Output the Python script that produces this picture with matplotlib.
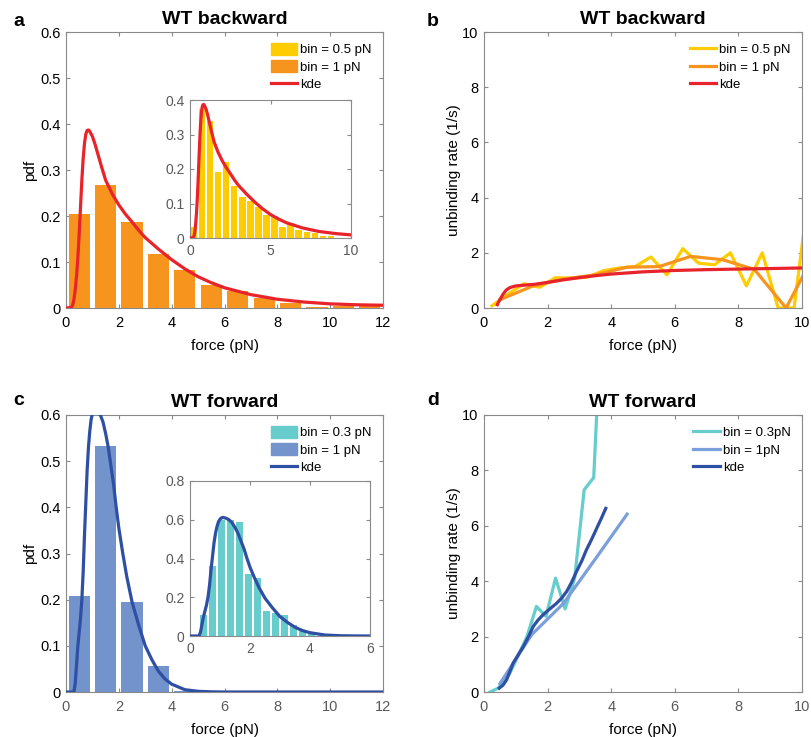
import numpy as np
import matplotlib
matplotlib.use("Agg")
import matplotlib.pyplot as plt
from matplotlib.patches import Patch
from matplotlib.lines import Line2D

plt.rcParams['font.family'] = ['Liberation Sans', 'DejaVu Sans']

# ---------------- data ----------------
# panel a: WT backward pdf
a_bin1_centers = [0.5, 1.5, 2.5, 3.5, 4.5, 5.5, 6.5, 7.5, 8.5, 9.5, 10.5, 11.5]
a_bin1_values = [0.204, 0.267, 0.188, 0.117, 0.083, 0.050, 0.036, 0.021, 0.011, 0.002, 0.004, 0.005]
a_bin05_centers = [0.25, 0.75, 1.25, 1.75, 2.25, 2.75, 3.25, 3.75, 4.25, 4.75, 5.25, 5.75,
                   6.25, 6.75, 7.25, 7.75, 8.25, 8.75, 9.25, 9.75]
a_bin05_values = [0.031, 0.373, 0.339, 0.192, 0.219, 0.150, 0.118, 0.108, 0.091, 0.067, 0.065, 0.031,
                  0.044, 0.022, 0.018, 0.015, 0.007, 0.007, 0.001, 0.001]
a_kde_x = [0, 0.2, 0.25, 0.3, 0.35, 0.4, 0.45, 0.5, 0.55, 0.6, 0.65, 0.7, 0.75, 0.8, 0.85, 0.9,
           1.0, 1.1, 1.2, 1.35, 1.5, 1.75, 2.0, 2.25, 2.5, 2.75, 3.0, 3.5, 4.0, 4.5, 5.0, 5.5,
           6.0, 7.0, 8.0, 9.0, 10.0, 11.0, 12.0]
a_kde_y = [0, 0.001, 0.006, 0.018, 0.04, 0.07, 0.11, 0.162, 0.22, 0.278, 0.325, 0.358, 0.378,
           0.386, 0.387, 0.384, 0.373, 0.356, 0.336, 0.306, 0.278, 0.248, 0.224, 0.204, 0.187,
           0.169, 0.153, 0.128, 0.105, 0.085, 0.068, 0.055, 0.044, 0.029, 0.019, 0.013, 0.009,
           0.007, 0.006]

# panel b: WT backward unbinding rate
b_bin05_x = [0.25, 0.75, 1.25, 1.75, 2.25, 2.75, 3.25, 3.75, 4.25, 4.75, 5.25, 5.75, 6.25, 6.75,
             7.25, 7.75, 8.25, 8.75, 9.25, 9.75, 10.25]
b_bin05_y = [0.08, 0.5, 0.88, 0.75, 1.1, 1.08, 1.12, 1.35, 1.45, 1.5, 1.85, 1.2, 2.15, 1.62,
             1.57, 2.0, 0.8, 2.0, 0.0, 0.0, 4.5]
b_bin1_x = [0.5, 1.5, 2.5, 3.5, 4.5, 5.5, 6.5, 7.5, 8.5, 9.5, 10.5]
b_bin1_y = [0.3, 0.78, 1.05, 1.2, 1.48, 1.5, 1.87, 1.75, 1.4, 0.0, 2.2]
b_kde_x = [0.42, 0.45, 0.5, 0.55, 0.6, 0.65, 0.7, 0.75, 0.8, 0.9, 1.0, 1.1, 1.3, 1.6, 2.0, 2.5,
           3.0, 3.5, 4.0, 5.0, 6.0, 7.0, 8.0, 9.0, 10.0]
b_kde_y = [0.12, 0.2, 0.3, 0.4, 0.5, 0.58, 0.65, 0.69, 0.73, 0.77, 0.8, 0.81, 0.83, 0.86, 0.93,
           1.02, 1.1, 1.17, 1.23, 1.31, 1.36, 1.39, 1.41, 1.43, 1.45]

# panel c: WT forward pdf
c_bin1_centers = [0.5, 1.5, 2.5, 3.5, 4.5]
c_bin1_values = [0.207, 0.532, 0.196, 0.057, 0.003]
c_bin03_centers = [0.45, 0.75, 1.05, 1.35, 1.65, 1.95, 2.25, 2.55, 2.85, 3.15, 3.45, 3.75, 4.05]
c_bin03_values = [0.108, 0.361, 0.600, 0.600, 0.588, 0.322, 0.300, 0.130, 0.118, 0.108, 0.057, 0.028, 0.008]
c_kde_x = [0, 0.3, 0.35, 0.4, 0.45, 0.5, 0.55, 0.6, 0.65, 0.7, 0.75, 0.8, 0.85, 0.9, 0.95, 1.0,
           1.05, 1.1, 1.2, 1.3, 1.4, 1.5, 1.6, 1.7, 1.8, 1.9, 2.0, 2.15, 2.3, 2.5, 2.75, 3.0,
           3.25, 3.5, 3.75, 4.0, 4.5, 5.0, 5.5, 6.0, 12.0]
c_kde_y = [0, 0, 0.02, 0.06, 0.1, 0.13, 0.16, 0.2, 0.26, 0.34, 0.41, 0.48, 0.53, 0.565, 0.59,
           0.603, 0.61, 0.612, 0.608, 0.6, 0.585, 0.56, 0.53, 0.49, 0.45, 0.40, 0.355, 0.3,
           0.25, 0.195, 0.145, 0.1, 0.07, 0.045, 0.028, 0.017, 0.005, 0.0015, 0.0004, 0, 0]

# panel d: WT forward unbinding rate
d_bin03_x = [0.19, 0.45, 0.8, 1.05, 1.35, 1.65, 1.95, 2.25, 2.55, 2.85, 3.15, 3.45, 3.75]
d_bin03_y = [0.0, 0.14, 0.65, 1.25, 2.0, 3.09, 2.73, 4.11, 3.0, 4.1, 7.3, 7.74, 15.0]
d_bin1_x = [0.5, 1.5, 2.5, 3.5, 4.5]
d_bin1_y = [0.3, 2.07, 3.2, 4.8, 6.42]
d_kde_x = [0.48, 0.6, 0.71, 0.8, 0.92, 1.08, 1.24, 1.4, 1.55, 1.7, 1.86, 2.07, 2.28, 2.45, 2.6,
           2.75, 2.91, 3.07, 3.22, 3.38, 3.54, 3.69, 3.83]
d_kde_y = [0.14, 0.25, 0.44, 0.7, 1.05, 1.35, 1.65, 2.0, 2.37, 2.6, 2.79, 3.0, 3.2, 3.4, 3.63,
           3.95, 4.35, 4.72, 5.13, 5.5, 5.9, 6.27, 6.63]

# ---------------- style ----------------
YELLOW = '#FFCC00'
ORANGE = '#F7941D'
RED = '#E8232A'
CYAN = '#66CCCC'
BLUEBAR = '#7293CB'
DARKBLUE = '#2F4FA2'
LIGHTBLUE = '#7A9FDA'
EDGE = '#8a8a8a'
GREYTXT = '#5a5a5a'

W, H = 811, 737
fig = plt.figure(figsize=(W / 100, H / 100), dpi=100)


def box(l, t, r, b):
    return [l / W, 1 - b / H, (r - l) / W, (b - t) / H]


def style(ax, xcol='black', ycol='black', fs=10.5, xpad=6):
    for s in ax.spines.values():
        s.set_color(EDGE)
        s.set_linewidth(0.8)
    ax.tick_params(direction='in', length=3, width=0.8, color=EDGE, top=True, right=True,
                   labelsize=fs, pad=4)
    ax.tick_params(axis='x', labelcolor=xcol, pad=xpad)
    ax.tick_params(axis='y', labelcolor=ycol)


def legend(ax, handles, labels):
    ax.legend(handles, labels, loc='upper right', frameon=False, fontsize=9.5,
              handlelength=2.0, handleheight=0.95, handletextpad=0.25, labelspacing=0.3,
              borderaxespad=0.55, borderpad=0.3)


LW = 2.3

# panel a
axa = fig.add_axes(box(66, 32, 383, 308))
axa.bar(a_bin1_centers, a_bin1_values, width=0.8, color=ORANGE, zorder=2)
axa.plot(a_kde_x, a_kde_y, color=RED, lw=LW, zorder=3)
axa.set_xlim(0, 12)
axa.set_ylim(0, 0.6)
axa.set_xticks(range(0, 13, 2))
axa.set_yticks([0, 0.1, 0.2, 0.3, 0.4, 0.5, 0.6])
axa.set_yticklabels(['0', '0.1', '0.2', '0.3', '0.4', '0.5', '0.6'])
style(axa)
axa.set_xlabel('force (pN)', fontsize=11, labelpad=6)
axa.set_ylabel('pdf', fontsize=11, labelpad=2)
axa.set_title('WT backward', fontsize=14, fontweight='bold', pad=6)
legend(axa, [Patch(color=YELLOW), Patch(color=ORANGE), Line2D([], [], color=RED, lw=LW)],
       ['bin = 0.5 pN', 'bin = 1 pN', 'kde'])

axai = fig.add_axes(box(190, 100, 351, 238))
axai.bar(a_bin05_centers, a_bin05_values, width=0.4, color=YELLOW, zorder=2)
axai.plot(a_kde_x, a_kde_y, color=RED, lw=LW, zorder=3)
axai.set_xlim(0, 10)
axai.set_ylim(0, 0.4)
axai.set_xticks([0, 5, 10])
axai.set_yticks([0, 0.1, 0.2, 0.3, 0.4])
axai.set_yticklabels(['0', '0.1', '0.2', '0.3', '0.4'])
style(axai, GREYTXT, GREYTXT, fs=10, xpad=4)

# panel b
axb = fig.add_axes(box(484, 32, 802, 308))
axb.plot(b_bin05_x, b_bin05_y, color=YELLOW, lw=LW, zorder=2)
axb.plot(b_bin1_x, b_bin1_y, color=ORANGE, lw=LW, zorder=3)
axb.plot(b_kde_x, b_kde_y, color=RED, lw=LW, zorder=4)
axb.set_xlim(0, 10)
axb.set_ylim(0, 10)
axb.set_xticks(range(0, 11, 2))
axb.set_yticks(range(0, 11, 2))
style(axb)
axb.set_xlabel('force (pN)', fontsize=11, labelpad=6)
axb.set_ylabel('unbinding rate (1/s)', fontsize=11, labelpad=1)
axb.set_title('WT backward', fontsize=14, fontweight='bold', pad=6)
legend(axb, [Line2D([], [], color=YELLOW, lw=LW), Line2D([], [], color=ORANGE, lw=LW),
             Line2D([], [], color=RED, lw=LW)],
       ['bin = 0.5 pN', 'bin = 1 pN', 'kde'])

# panel c
axc = fig.add_axes(box(66, 415, 383, 692))
axc.bar(c_bin1_centers, c_bin1_values, width=0.8, color=BLUEBAR, zorder=2)
axc.plot(c_kde_x, c_kde_y, color=DARKBLUE, lw=LW, zorder=3)
axc.set_xlim(0, 12)
axc.set_ylim(0, 0.6)
axc.set_xticks(range(0, 13, 2))
axc.set_yticks([0, 0.1, 0.2, 0.3, 0.4, 0.5, 0.6])
axc.set_yticklabels(['0', '0.1', '0.2', '0.3', '0.4', '0.5', '0.6'])
style(axc, xcol=GREYTXT)
axc.set_xlabel('force (pN)', fontsize=11, labelpad=6)
axc.set_ylabel('pdf', fontsize=11, labelpad=2)
axc.set_title('WT forward', fontsize=14, fontweight='bold', pad=6)
legend(axc, [Patch(color=CYAN), Patch(color=BLUEBAR), Line2D([], [], color=DARKBLUE, lw=LW)],
       ['bin = 0.3 pN', 'bin = 1 pN', 'kde'])

axci = fig.add_axes(box(190, 481, 370, 636))
axci.bar(c_bin03_centers, c_bin03_values, width=0.24, color=CYAN, zorder=2)
axci.plot(c_kde_x, c_kde_y, color=DARKBLUE, lw=LW, zorder=3)
axci.set_xlim(0, 6)
axci.set_ylim(0, 0.8)
axci.set_xticks([0, 2, 4, 6])
axci.set_yticks([0, 0.2, 0.4, 0.6, 0.8])
axci.set_yticklabels(['0', '0.2', '0.4', '0.6', '0.8'])
style(axci, GREYTXT, GREYTXT, fs=10, xpad=4)

# panel d
axd = fig.add_axes(box(484, 415, 802, 692))
axd.plot(d_bin03_x, d_bin03_y, color=CYAN, lw=LW, zorder=2)
axd.plot(d_bin1_x, d_bin1_y, color=LIGHTBLUE, lw=LW, zorder=3)
axd.plot(d_kde_x, d_kde_y, color=DARKBLUE, lw=LW, zorder=4)
axd.set_xlim(0, 10)
axd.set_ylim(0, 10)
axd.set_xticks(range(0, 11, 2))
axd.set_yticks(range(0, 11, 2))
style(axd, xcol=GREYTXT)
axd.set_xlabel('force (pN)', fontsize=11, labelpad=6)
axd.set_ylabel('unbinding rate (1/s)', fontsize=11, labelpad=1)
axd.set_title('WT forward', fontsize=14, fontweight='bold', pad=6)
legend(axd, [Line2D([], [], color=CYAN, lw=LW), Line2D([], [], color=LIGHTBLUE, lw=LW),
             Line2D([], [], color=DARKBLUE, lw=LW)],
       ['bin = 0.3pN', 'bin = 1pN', 'kde'])

# panel letters
for txt, x, y in [('a', 13, 26), ('b', 427, 26), ('c', 13, 405), ('d', 427, 405)]:
    fig.text(x / W, 1 - y / H, txt, fontsize=14, fontweight='bold', va='baseline', ha='left')

fig.savefig('out.png', dpi=100)
